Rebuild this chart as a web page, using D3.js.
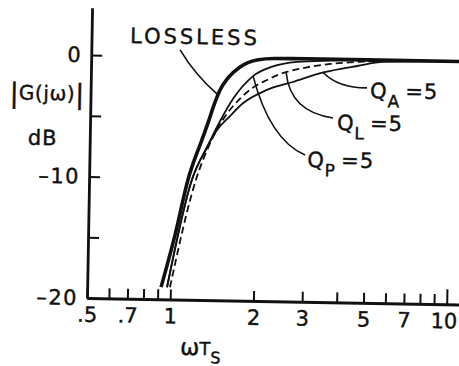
<!DOCTYPE html>
<html>
<head>
<meta charset="utf-8">
<script src="https://cdn.jsdelivr.net/npm/d3@7"></script>
<style>
  body { margin: 0; background: #fff; }
  svg { display: block; }
  text { font-family: "DejaVu Sans", sans-serif; fill: #111; stroke: #111; stroke-width: 0.4; }
</style>
</head>
<body>
<svg id="chart" width="459" height="366"></svg>
<script>
// ---- axis ticks and labels ----
const xTickValues  = [0.5, 0.6, 0.7, 0.8, 0.9, 1, 2, 3, 4, 5, 6, 7, 8, 9, 10];
const xLabelValues = [0.5, 0.7, 1, 2, 3, 5, 7, 10];
const xLabelTexts  = [".5", ".7", "1", "2", "3", "5", "7", "10"];
const yTickValues  = [-20, -15, -10, -5, 0];
const yLabelValues = [-20, -10, 0];
const yLabelTexts  = ["–20", "–10", "0"];

// ---- magnitude responses: normalised frequency wTs vs |G(jw)| in dB ----
const losslessW  = [0.925, 1.031, 1.14, 1.273, 1.335, 1.40, 1.469, 1.567, 1.729, 1.99, 2.3, 3, 5, 11.07];
const losslessDb = [-19.0, -14.7, -10.1, -6.8, -5.42, -3.93, -2.69, -1.69, -0.77, -0.17, -0.02, 0, 0, 0];

const qpW  = [0.972, 1.178, 1.33, 1.48, 1.639, 1.93, 2.26, 2.78, 3.66, 5.0, 11.07];
const qpDb = [-19.0, -10.1, -7.4, -5.2, -3.4, -1.5, -0.7, -0.27, -0.12, -0.03, 0];

const qlW  = [0.996, 1.218, 1.35, 1.50, 1.75, 1.93, 2.17, 2.415, 3.02, 3.66, 4.58, 6.5, 11.07];
const qlDb = [-19.0, -10.1, -7.3, -5.25, -3.3, -2.45, -1.8, -1.3, -0.7, -0.39, -0.19, -0.03, 0];

const qaW  = [0.972, 1.178, 1.33, 1.45, 1.575, 1.78, 2.17, 2.69, 3.46, 4.58, 5.68, 11.07];
const qaDb = [-19.0, -10.1, -7.4, -5.9, -5.0, -3.75, -2.62, -1.93, -1.1, -0.52, -0.15, 0];

// ---- curve labels (anchor in data units) and their leader lines ----
const labelMain  = ["Q", "Q", "Q"];
const labelSub   = ["A", "L", "P"];
const labelTail  = ["=5", "=5", "=5"];
const labelAt    = [[5.13, -3.13], [3.91, -5.81], [3.07, -8.9]];
const losslessText = "LOSSLESS";
const losslessAt   = [0.689, 1.05];
// leader lines: [start, control, end]
const leaders = [
  [[1.047, 0.55], [1.19, -1.49], [1.445, -3.1]],
  [[3.46, -1.1], [3.92, -2.35], [4.99, -2.31]],
  [[2.54, -1.16], [2.64, -4.4], [3.78, -4.83]],
  [[1.93, -1.5], [2.24, -6.73], [3.01, -7.92]]
];

// ---- layout ----
const X0 = 87, Y0 = 298, PX_PER_DECADE = 276.5, PX_PER_DB = 12.15;
const X_MAX = 11.07, Y_MAX = 3.9;
const INK = "#111";

const x = d3.scaleLog()
  .domain([0.5, X_MAX])
  .range([X0, X0 + PX_PER_DECADE * Math.log10(X_MAX / 0.5)]);
const y = d3.scaleLinear()
  .domain([-20, Y_MAX])
  .range([Y0, Y0 - PX_PER_DB * (Y_MAX + 20)]);

const svg = d3.select("#chart");
svg.append("rect").attr("width", 459).attr("height", 366).attr("fill", "#fff");

// the whole plate sits slightly askew
const g = svg.append("g").attr("transform", `rotate(1 ${X0} ${Y0})`);

// x axis: ticks point up into the plot
const xAxis = d3.axisBottom(x)
  .tickValues(xTickValues)
  .tickSizeInner(-10).tickSizeOuter(0).tickPadding(9)
  .tickFormat(d => { const i = xLabelValues.indexOf(d); return i < 0 ? "" : xLabelTexts[i]; });
const gx = g.append("g").attr("transform", `translate(0,${Y0})`).call(xAxis);
gx.attr("font-family", null).attr("font-size", null);
gx.select(".domain").attr("stroke", INK).attr("stroke-width", 2.8);
gx.selectAll(".tick line").attr("stroke", INK).attr("stroke-width", 2)
  .attr("y2", d => d === 10 ? -15 : -10);
gx.selectAll(".tick text").attr("font-size", 21).attr("fill", INK)
  .attr("dx", d => d === 10 ? -3 : 0);

// y axis: ticks point right into the plot
const yAxis = d3.axisLeft(y)
  .tickValues(yTickValues)
  .tickSizeInner(-11).tickSizeOuter(0).tickPadding(9)
  .tickFormat(d => { const i = yLabelValues.indexOf(d); return i < 0 ? "" : yLabelTexts[i]; });
const gy = g.append("g").attr("transform", `translate(${X0},0)`).call(yAxis);
gy.attr("font-family", null).attr("font-size", null);
gy.select(".domain").attr("stroke", INK).attr("stroke-width", 2.8);
gy.selectAll(".tick line").attr("stroke", INK).attr("stroke-width", 2);
gy.selectAll(".tick text").attr("font-size", 21).attr("letter-spacing", 1.5).attr("fill", INK);

// axis titles
const yTitle = g.append("text")
  .attr("x", X0 - 43.5).attr("y", y(-3.76))
  .attr("text-anchor", "middle");
yTitle.append("tspan").attr("font-size", 27).attr("dy", 3).text("|");
yTitle.append("tspan").attr("font-size", 20).attr("dy", -3).attr("letter-spacing", 0.6).text("G(jω)");
yTitle.append("tspan").attr("font-size", 27).attr("dy", 3).text("|");

g.append("text")
  .attr("x", X0 - 47).attr("y", y(-7.47))
  .attr("text-anchor", "middle").attr("font-size", 21).attr("letter-spacing", 1)
  .text("dB");

const xTitle = g.append("text")
  .attr("x", x(1.094)).attr("y", Y0 + 55);
xTitle.append("tspan").attr("font-size", 23).text("ω");
xTitle.append("tspan").attr("font-size", 18).text("T");
xTitle.append("tspan").attr("font-size", 16).attr("dy", 8).text("S");

// curves
const line = d3.line()
  .x(d => x(d[0])).y(d => y(d[1]))
  .curve(d3.curveMonotoneX);

g.append("path").datum(d3.zip(qaW, qaDb))
  .attr("d", line).attr("fill", "none").attr("stroke", INK).attr("stroke-width", 1.8);
g.append("path").datum(d3.zip(qpW, qpDb))
  .attr("d", line).attr("fill", "none").attr("stroke", INK).attr("stroke-width", 1.8);
g.append("path").datum(d3.zip(qlW, qlDb))
  .attr("d", line).attr("fill", "none").attr("stroke", INK).attr("stroke-width", 1.8)
  .attr("stroke-dasharray", "7,4");
g.append("path").datum(d3.zip(losslessW, losslessDb))
  .attr("d", line).attr("fill", "none").attr("stroke", INK).attr("stroke-width", 3.6)
  .attr("stroke-linejoin", "round");

// leader lines
g.selectAll("path.leader").data(leaders).join("path")
  .attr("class", "leader")
  .attr("d", p => `M${x(p[0][0])},${y(p[0][1])}Q${x(p[1][0])},${y(p[1][1])} ${x(p[2][0])},${y(p[2][1])}`)
  .attr("fill", "none").attr("stroke", INK).attr("stroke-width", 1.6);

// curve labels
g.append("text")
  .attr("x", x(losslessAt[0])).attr("y", y(losslessAt[1]))
  .attr("font-size", 21).attr("letter-spacing", 3)
  .text(losslessText);

labelMain.forEach((m, i) => {
  const t = g.append("text")
    .attr("x", x(labelAt[i][0])).attr("y", y(labelAt[i][1]));
  t.append("tspan").attr("font-size", 21).text(m);
  t.append("tspan").attr("font-size", 17).attr("dy", 9).attr("dx", 1).text(labelSub[i]);
  t.append("tspan").attr("font-size", 21).attr("dy", -9).attr("dx", 6).attr("letter-spacing", 1).text(labelTail[i]);
});
</script>
</body>
</html>
